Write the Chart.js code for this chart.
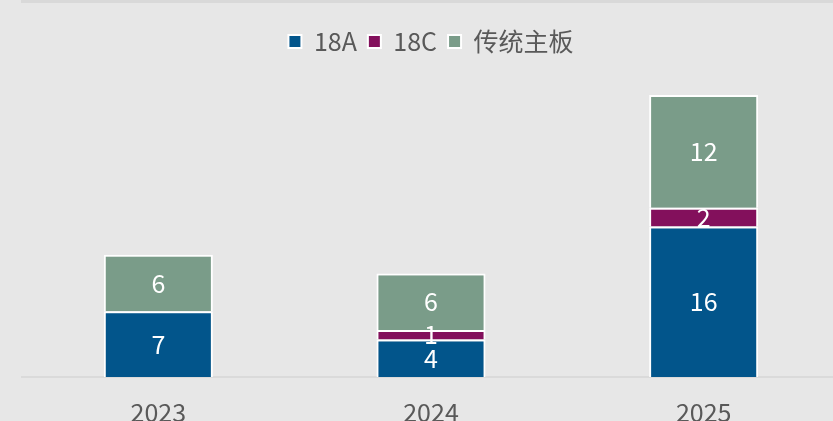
<!DOCTYPE html>
<html>
<head>
<meta charset="utf-8">
<script src="https://cdn.jsdelivr.net/npm/chart.js@4/dist/chart.umd.min.js"></script>
<style>
html, body { margin: 0; padding: 0; background: #e7e7e7; overflow: hidden; }
#wrap { position: relative; width: 860px; height: 439px; }
#topline { position: absolute; left: 21px; top: 0; width: 840px; height: 3px; background: #d9d9d9; }
</style>
</head>
<body>
<div id="wrap">
<div id="topline"></div>
<canvas id="boardChart" width="860" height="439"></canvas>
</div>
<script>
const years = ["2023", "2024", "2025"];
const data18A = [7, 4, 16];
const data18C = [0, 1, 2];
const dataMain = [6, 6, 12];

const fontFamily = "'Noto Sans CJK SC', 'Noto Sans', sans-serif";

// white numbers in the middle of each segment
const segmentLabels = {
    id: "segmentLabels",
    afterDatasetsDraw(chart) {
        const ctx = chart.ctx;
        ctx.save();
        ctx.fillStyle = "#ffffff";
        ctx.font = "25px " + fontFamily;
        ctx.textAlign = "center";
        ctx.textBaseline = "middle";
        chart.data.datasets.forEach((ds, i) => {
            const meta = chart.getDatasetMeta(i);
            meta.data.forEach((bar, j) => {
                const v = ds.data[j];
                if (!v) return;
                ctx.fillText(String(v), bar.x, (bar.y + bar.base) / 2);
            });
        });
        ctx.restore();
    }
};

const ctxBoard = document.getElementById("boardChart").getContext("2d");
new Chart(ctxBoard, {
    type: "bar",
    data: {
        labels: years,
        datasets: [{
            label: "18A",
            data: data18A,
            backgroundColor: "#02558b",
            borderColor: "#ffffff",
            borderWidth: 2
        }, {
            label: "18C",
            data: data18C,
            backgroundColor: "#83105c",
            borderColor: "#ffffff",
            borderWidth: 2
        }, {
            label: "传统主板",
            data: dataMain,
            backgroundColor: "#7a9c89",
            borderColor: "#ffffff",
            borderWidth: 2
        }]
    },
    options: {
        responsive: false,
        animation: false,
        layout: { padding: { top: 18, left: 22, right: 20, bottom: 0 } },
        datasets: { bar: { categoryPercentage: 1, barPercentage: 0.4 } },
        plugins: {
            legend: {
                position: "top",
                labels: {
                    boxWidth: 13,
                    boxHeight: 13,
                    padding: 11,
                    color: "#595959",
                    font: { family: fontFamily, size: 25 }
                }
            },
            tooltip: { enabled: false }
        },
        scales: {
            x: {
                stacked: true,
                grid: { display: false },
                border: { display: true, color: "#dadada", width: 2 },
                ticks: {
                    color: "#595959",
                    padding: 12,
                    font: { family: fontFamily, size: 25 }
                }
            },
            y: {
                stacked: true,
                display: false,
                min: 0,
                max: 33.3
            }
        }
    },
    plugins: [segmentLabels]
});
</script>
</body>
</html>
